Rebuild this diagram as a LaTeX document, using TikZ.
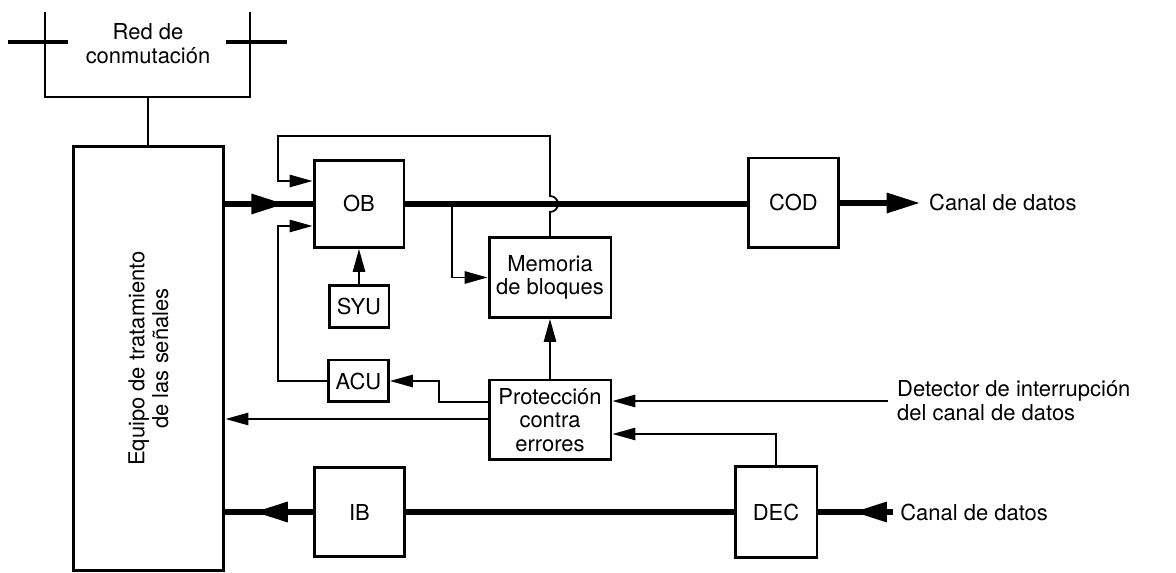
\documentclass[tikz,border=0pt]{standalone}
\usepackage{fontspec}
\setmainfont{TeX Gyre Heros}
\usetikzlibrary{arrows.meta,decorations.markings}
\tikzset{>=Stealth,every node/.style={font=\fontsize{12.5}{13.5}\selectfont},
 blk/.style={draw,line width=1.7pt,inner sep=0pt,align=center},
 sq/.style={blk,minimum width=1.8cm,minimum height=1.8cm},
 wide/.style={blk,minimum width=2.44cm,minimum height=1.6cm},
 small/.style={blk,minimum width=1.2cm,minimum height=.84cm},
 sig/.style={line width=1pt},
 bus/.style={line width=3pt},
 net/.style={line width=1.9pt},
 tip/.style={-{Triangle[length=13pt,width=7pt]}},
 bustip/.style={-{Triangle[length=19pt,width=11pt]}},
 midtip/.style={postaction={decorate},decoration={markings,
  mark=at position #1 with {\arrow{Triangle[length=19pt,width=11pt]}}}}}
\begin{document}
\begin{tikzpicture}[x=.02cm,y=-.02cm]
\useasboundingbox (0,0) rectangle (1176,573);
% blocks
\node[blk,minimum width=3.02cm,minimum height=8.5cm] (eq) at (148.5,358.5) {};
\node[rotate=90,align=center] (eqlbl) at (eq) {Equipo de tratamiento\\de las señales};
\node[sq,minimum height=1.74cm] (OB) at (359,204) {OB};
\node[sq] (COD) at (793.5,203) {COD};
\node[wide] (mem) at (550,277.5) {Memoria\\de bloques};
\node[small] (SYU) at (359,306.5) {SYU};
\node[small] (ACU) at (358.5,381) {ACU};
\node[wide] (prot) at (550,420) {Protección\\contra\\errores};
\node[sq] (IB) at (359.5,512) {IB};
\node[sq,minimum width=1.64cm,minimum height=1.84cm] (DEC) at (776,512) {DEC};
% switching network
\node[align=center] (red) at (148,44) {Red de\\conmutación};
\draw[sig] (45,12) |- (250,97) -- (250,12);
\draw[net] (8,42) -- (68,42) (226,42) -- (287,42);
\coordinate (redbot) at (148,97);
\draw[sig] (redbot) -- (redbot |- eq.north);
% outgoing path
\draw[bus,midtip=.68] (eq.east |- OB) -- (OB);
\draw[bus] (OB) -- (OB -| COD.west);
\node[right,inner sep=5pt] (cout) at (920,203) {Canal de datos};
\draw[bus,bustip] (COD) -- (cout);
\coordinate (brk) at (452,0 |- OB.east);
\draw[sig,tip] (brk) |- (mem);
\draw[sig,tip] (mem.north) -- ([yshift=-.16cm]mem.north |- OB)
 arc[start angle=-90,end angle=90,radius=.16cm]
 -- (mem.north |- 0,136) -| (278,181) -- (OB.west |- 0,181);
\draw[sig,tip] (SYU) -- (OB);
\draw[sig,tip] (ACU) -| (278,226) -- (OB.west |- 0,226);
% error protection
\draw[sig,tip] (prot) -- (mem);
\draw[sig,tip] (prot.west |- 0,402) -| (439,381) -- (ACU);
\draw[sig,tip] (prot.west |- 0,419) -- (eq.east |- 0,419);
\node[right,align=left,inner sep=5pt] (det) at (888,401) {Detector de interrupción\\del canal de datos};
\draw[sig,tip] (det.west) -- (prot.east |- det.west);
\draw[sig,tip] (DEC.north) |- (prot.east |- 0,434);
% incoming path
\node[right,inner sep=4pt] (cin) at (893,512) {Canal de datos};
\draw[bus,midtip=.53] (cin.west) -- (DEC);
\draw[bus] (DEC) -- (IB);
\draw[bus,midtip=.67] (IB) -- (eq.east |- IB);
\end{tikzpicture}
\end{document}
